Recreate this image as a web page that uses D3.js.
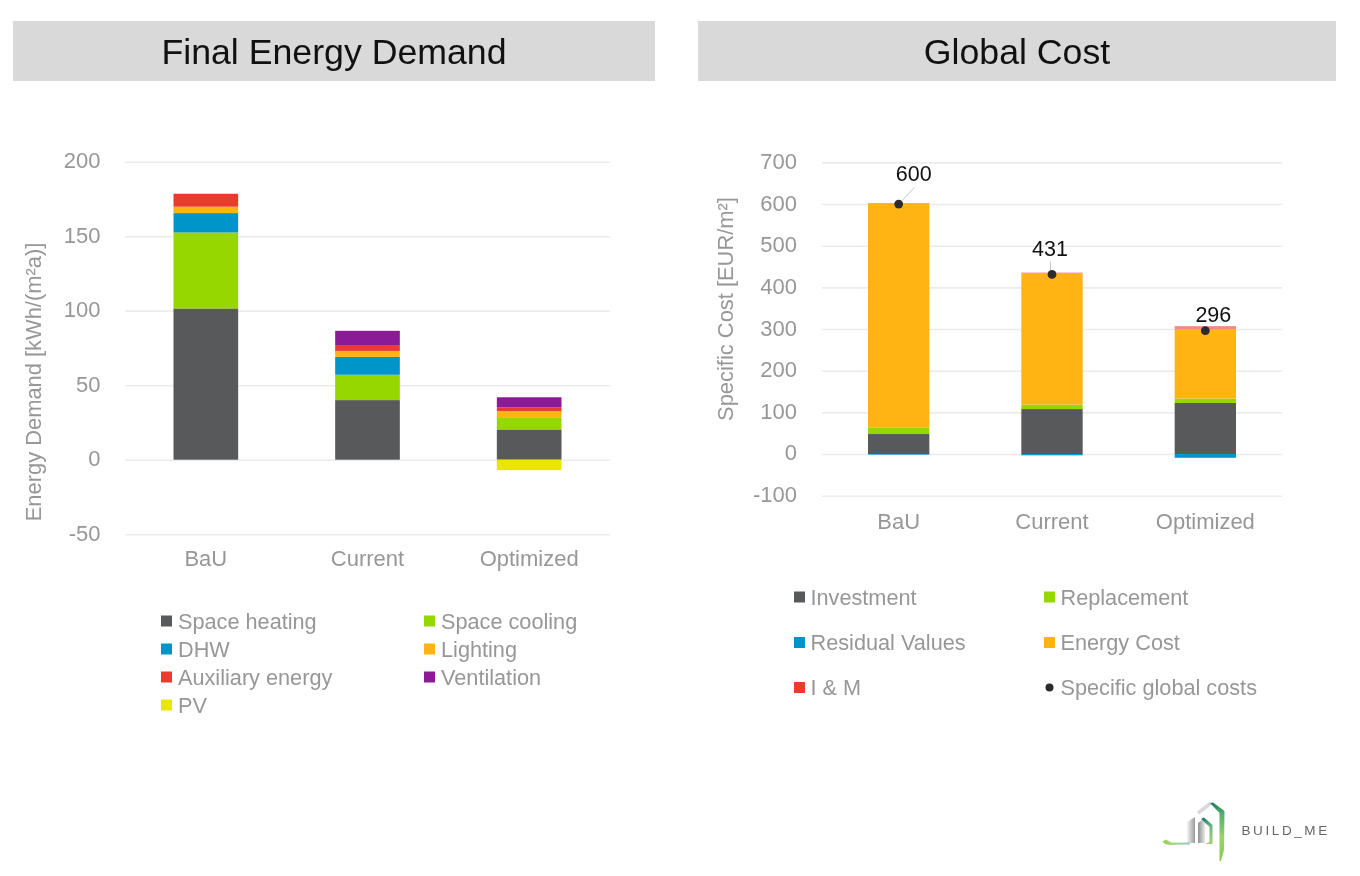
<!DOCTYPE html>
<html><head><meta charset="utf-8">
<script src="https://cdn.jsdelivr.net/npm/d3@7"></script>
<style>
html,body{margin:0;padding:0;background:#fff}
svg{display:block;filter:blur(0.45px)}
text{font-family:"Liberation Sans",Arial,sans-serif}
</style></head><body>
<svg id="c" width="1360" height="876"></svg>
<script>
const categories = ["BaU","Current","Optimized"];

const spaceHeating = [101.5,40,20.3];
const spaceCooling = [51,17,7.7];
const dhw = [13,12,0.3];
const lighting = [4.3,4,4.4];
const auxiliaryEnergy = [8.7,3.5,2.5];
const ventilation = [0,10,6.7];
const pv = [0,0,-7];
const energyTicks = [-50,0,50,100,150,200];

const investment = [48,108,122.6];
const replacement = [15,10.5,10.4];
const residualValues = [-1.5,-3,-9];
const energyCost = [537,314.5,167];
const iAndM = [2,2.5,7];
const globalCosts = [600,431,296];
const costTicks = [-100,0,100,200,300,400,500,600,700];

const energySeries = [
  ["Space heating",spaceHeating,"#58595b"],["Space cooling",spaceCooling,"#97d700"],
  ["DHW",dhw,"#0095c8"],["Lighting",lighting,"#ffb414"],
  ["Auxiliary energy",auxiliaryEnergy,"#e83c2e"],["Ventilation",ventilation,"#8a1a96"],
  ["PV",pv,"#ebe600"]];
const costSeries = [
  ["Investment",investment,"#58595b"],["Replacement",replacement,"#97d700"],
  ["Residual Values",residualValues,"#0095c8"],["Energy Cost",energyCost,"#ffb414"],
  ["I & M",iAndM,"#e83c2e"]];

const svg = d3.select("#c");
const AXIS = "#979797", GRID = "#ebebeb";

function banner(x,w,label){
  svg.append("rect").attr("x",x).attr("y",21).attr("width",w).attr("height",60).attr("fill","#d9d9d9");
  svg.append("text").attr("x",x+w/2).attr("y",64).attr("text-anchor","middle")
    .attr("font-size",35.7).attr("fill","#111").text(label);
}

function stackedChart(o){
  const g = svg.append("g");
  const x = d3.scaleBand().domain(categories).range(o.xr).paddingInner(0.6).paddingOuter(0.3);
  const y = d3.scaleLinear().domain(o.yd).range(o.yr);
  const rows = categories.map((c,i)=>{
    const r={cat:c}; o.series.forEach(s=>r[s[0]]=s[1][i]); return r;});
  const stacked = d3.stack().keys(o.series.map(s=>s[0])).offset(d3.stackOffsetDiverging)(rows);

  const ya = g.append("g").attr("transform",`translate(${o.xr[0]},0)`)
    .call(d3.axisLeft(y).tickValues(o.ticks).tickSize(-(o.xr[1]-o.xr[0])).tickPadding(o.tickPad).tickFormat(d=>String(d)));
  ya.select(".domain").remove();
  ya.selectAll(".tick line").attr("stroke",GRID).attr("stroke-width",1.6);
  ya.selectAll(".tick text").attr("fill",AXIS).attr("font-size",22).attr("dy","0.27em").attr("font-family","Liberation Sans");

  stacked.forEach((layer,i)=>{
    g.append("g").attr("fill",o.series[i][2]).attr("fill-opacity",o.series[i][0]==="I & M"?0.6:1)
      .selectAll("rect").data(layer).join("rect")
      .attr("x",d=>x(d.data.cat)).attr("width",x.bandwidth())
      .attr("y",d=>y(Math.max(d[0],d[1]))).attr("height",d=>Math.abs(y(d[0])-y(d[1])));
  });

  const xa = g.append("g").attr("transform",`translate(0,${o.xAxisY})`)
    .call(d3.axisBottom(x).tickSize(0).tickPadding(0));
  xa.select(".domain").remove();
  xa.selectAll(".tick text").attr("fill",AXIS).attr("font-size",22).attr("font-family","Liberation Sans");

  g.append("text").attr("transform",`translate(${o.titleX},${o.titleY}) rotate(-90)`)
    .attr("text-anchor","middle").attr("fill",AXIS).attr("font-size",o.titleSize).text(o.title);
  return {x,y,g};
}

function legend(items,pos,labelDx){
  items.forEach((it,i)=>{
    const p=pos[i], g=svg.append("g");
    if(it[2]==="dot") g.append("circle").attr("cx",p[0]+5.5).attr("cy",p[1]).attr("r",4).attr("fill","#2b2b2b");
    else g.append("rect").attr("x",p[0]).attr("y",p[1]-5.5).attr("width",11).attr("height",11).attr("fill",it[2]);
    g.append("text").attr("x",p[0]+labelDx).attr("y",p[1]+7.5).attr("fill",AXIS).attr("font-size",21.7).text(it[0]);
  });
}

banner(13,642,"Final Energy Demand");
banner(698,638,"Global Cost");

stackedChart({series:energySeries,xr:[125,610],yd:[-50,200],yr:[534.2,161.7],ticks:energyTicks,
  xAxisY:550.4,tickPad:24.5,title:"Energy Demand [kWh/(m\u00b2a)]",titleX:41,titleY:382,titleSize:21.9});

const right = stackedChart({series:costSeries,xr:[822,1282],yd:[-100,700],yr:[495.7,162.4],ticks:costTicks,
  xAxisY:513.7,tickPad:25,title:"Specific Cost [EUR/m\u00b2]",titleX:733,titleY:309,titleSize:21.9});

// Specific global costs: markers, leader lines and labels
const labelOffset = [[14,-23.5],[-3,-18],[7,-8.6]];
const leaders = [[[3,-3],[16,-17]],[[-1.5,-4],[-1.5,-13]],null];
globalCosts.forEach((v,i)=>{
  const cx=right.x(categories[i])+right.x.bandwidth()/2, cy=right.y(v);
  if(leaders[i]) right.g.append("line")
    .attr("x1",cx+leaders[i][0][0]).attr("y1",cy+leaders[i][0][1])
    .attr("x2",cx+leaders[i][1][0]).attr("y2",cy+leaders[i][1][1])
    .attr("stroke","#c8c8c8").attr("stroke-width",1);
  right.g.append("circle").attr("cx",cx).attr("cy",cy).attr("r",4.4).attr("fill","#2b2b2b");
  right.g.append("text").attr("x",cx+labelOffset[i][0]+1).attr("y",cy+labelOffset[i][1])
    .attr("text-anchor","middle").attr("font-size",21.5).attr("fill","#111").text(v);
});

legend(energySeries.map(s=>[s[0],s[1],s[2]]),
  [[161,621],[424,621],[161,649],[424,649],[161,677],[424,677],[161,705]],17);
legend(costSeries.map(s=>[s[0],s[1],s[2]]).concat([["Specific global costs",null,"dot"]]),
  [[794,597],[1044,597],[794,642.5],[1044,642.5],[794,687.5],[1044,687.5]],16.5);

// BUILD_ME logo
const defs=svg.append("defs");
const gr=(id,y1,y2,x1,x2,stops)=>{const l=defs.append("linearGradient").attr("id",id).attr("gradientUnits","userSpaceOnUse")
  .attr("x1",x1).attr("y1",y1).attr("x2",x2).attr("y2",y2);
  stops.forEach(s=>l.append("stop").attr("offset",s[0]).attr("stop-color",s[1]));};
gr("lgOuter",12,71,0,0,[[0,"#0f7f5c"],[0.2,"#55ad6c"],[0.6,"#9ad466"],[1,"#86cc4c"]]);
gr("lgInner",28,54,0,0,[[0,"#0f7f5c"],[0.3,"#6fb48a"],[1,"#9fd46a"]]);
gr("lgBarA",0,0,37,45,[[0,"#f4f4f4"],[1,"#9a9a9a"]]);
gr("lgBarB",0,0,48,55,[[0,"#8f8f8f"],[1,"#e8e8e8"]]);
gr("lgSwoosh",0,0,12,40,[[0,"#9bd14f"],[0.6,"#a7d8a0"],[1,"#9cc4c0"]]);
const logo=svg.append("g").attr("transform","translate(1150,790)").attr("fill","none");
logo.append("path").attr("d","M61 13 L48 23").attr("stroke","#d8d8d8").attr("stroke-width",3.5);
logo.append("path").attr("d","M60 13 L63 12.5 L74.5 21 L74 60 L71 71 L69.5 71 L69.5 23 Z").attr("fill","url(#lgOuter)");
logo.append("path").attr("d","M37 32 L45 27 L45 53 L37 53 Z").attr("fill","url(#lgBarA)");
logo.append("path").attr("d","M48 33 L52 30 L55 32 L55 53 L48 53 Z").attr("fill","url(#lgBarB)");
logo.append("path").attr("d","M51 29 L54 27.5 L62.5 35 L62.5 54 L55 54 L59.5 52 L59.5 37 Z").attr("fill","url(#lgInner)");
logo.append("path").attr("d","M12.5 51.5 L16 49.5 L21 52.5 L40 52.5 L40 54.5 L20 55 L15 54 Z").attr("fill","url(#lgSwoosh)");
logo.append("text").attr("x",91.5).attr("y",45).attr("font-size",13.5).attr("letter-spacing",2.6)
  .attr("fill","#666").text("BUILD_ME");
</script>
</body></html>
